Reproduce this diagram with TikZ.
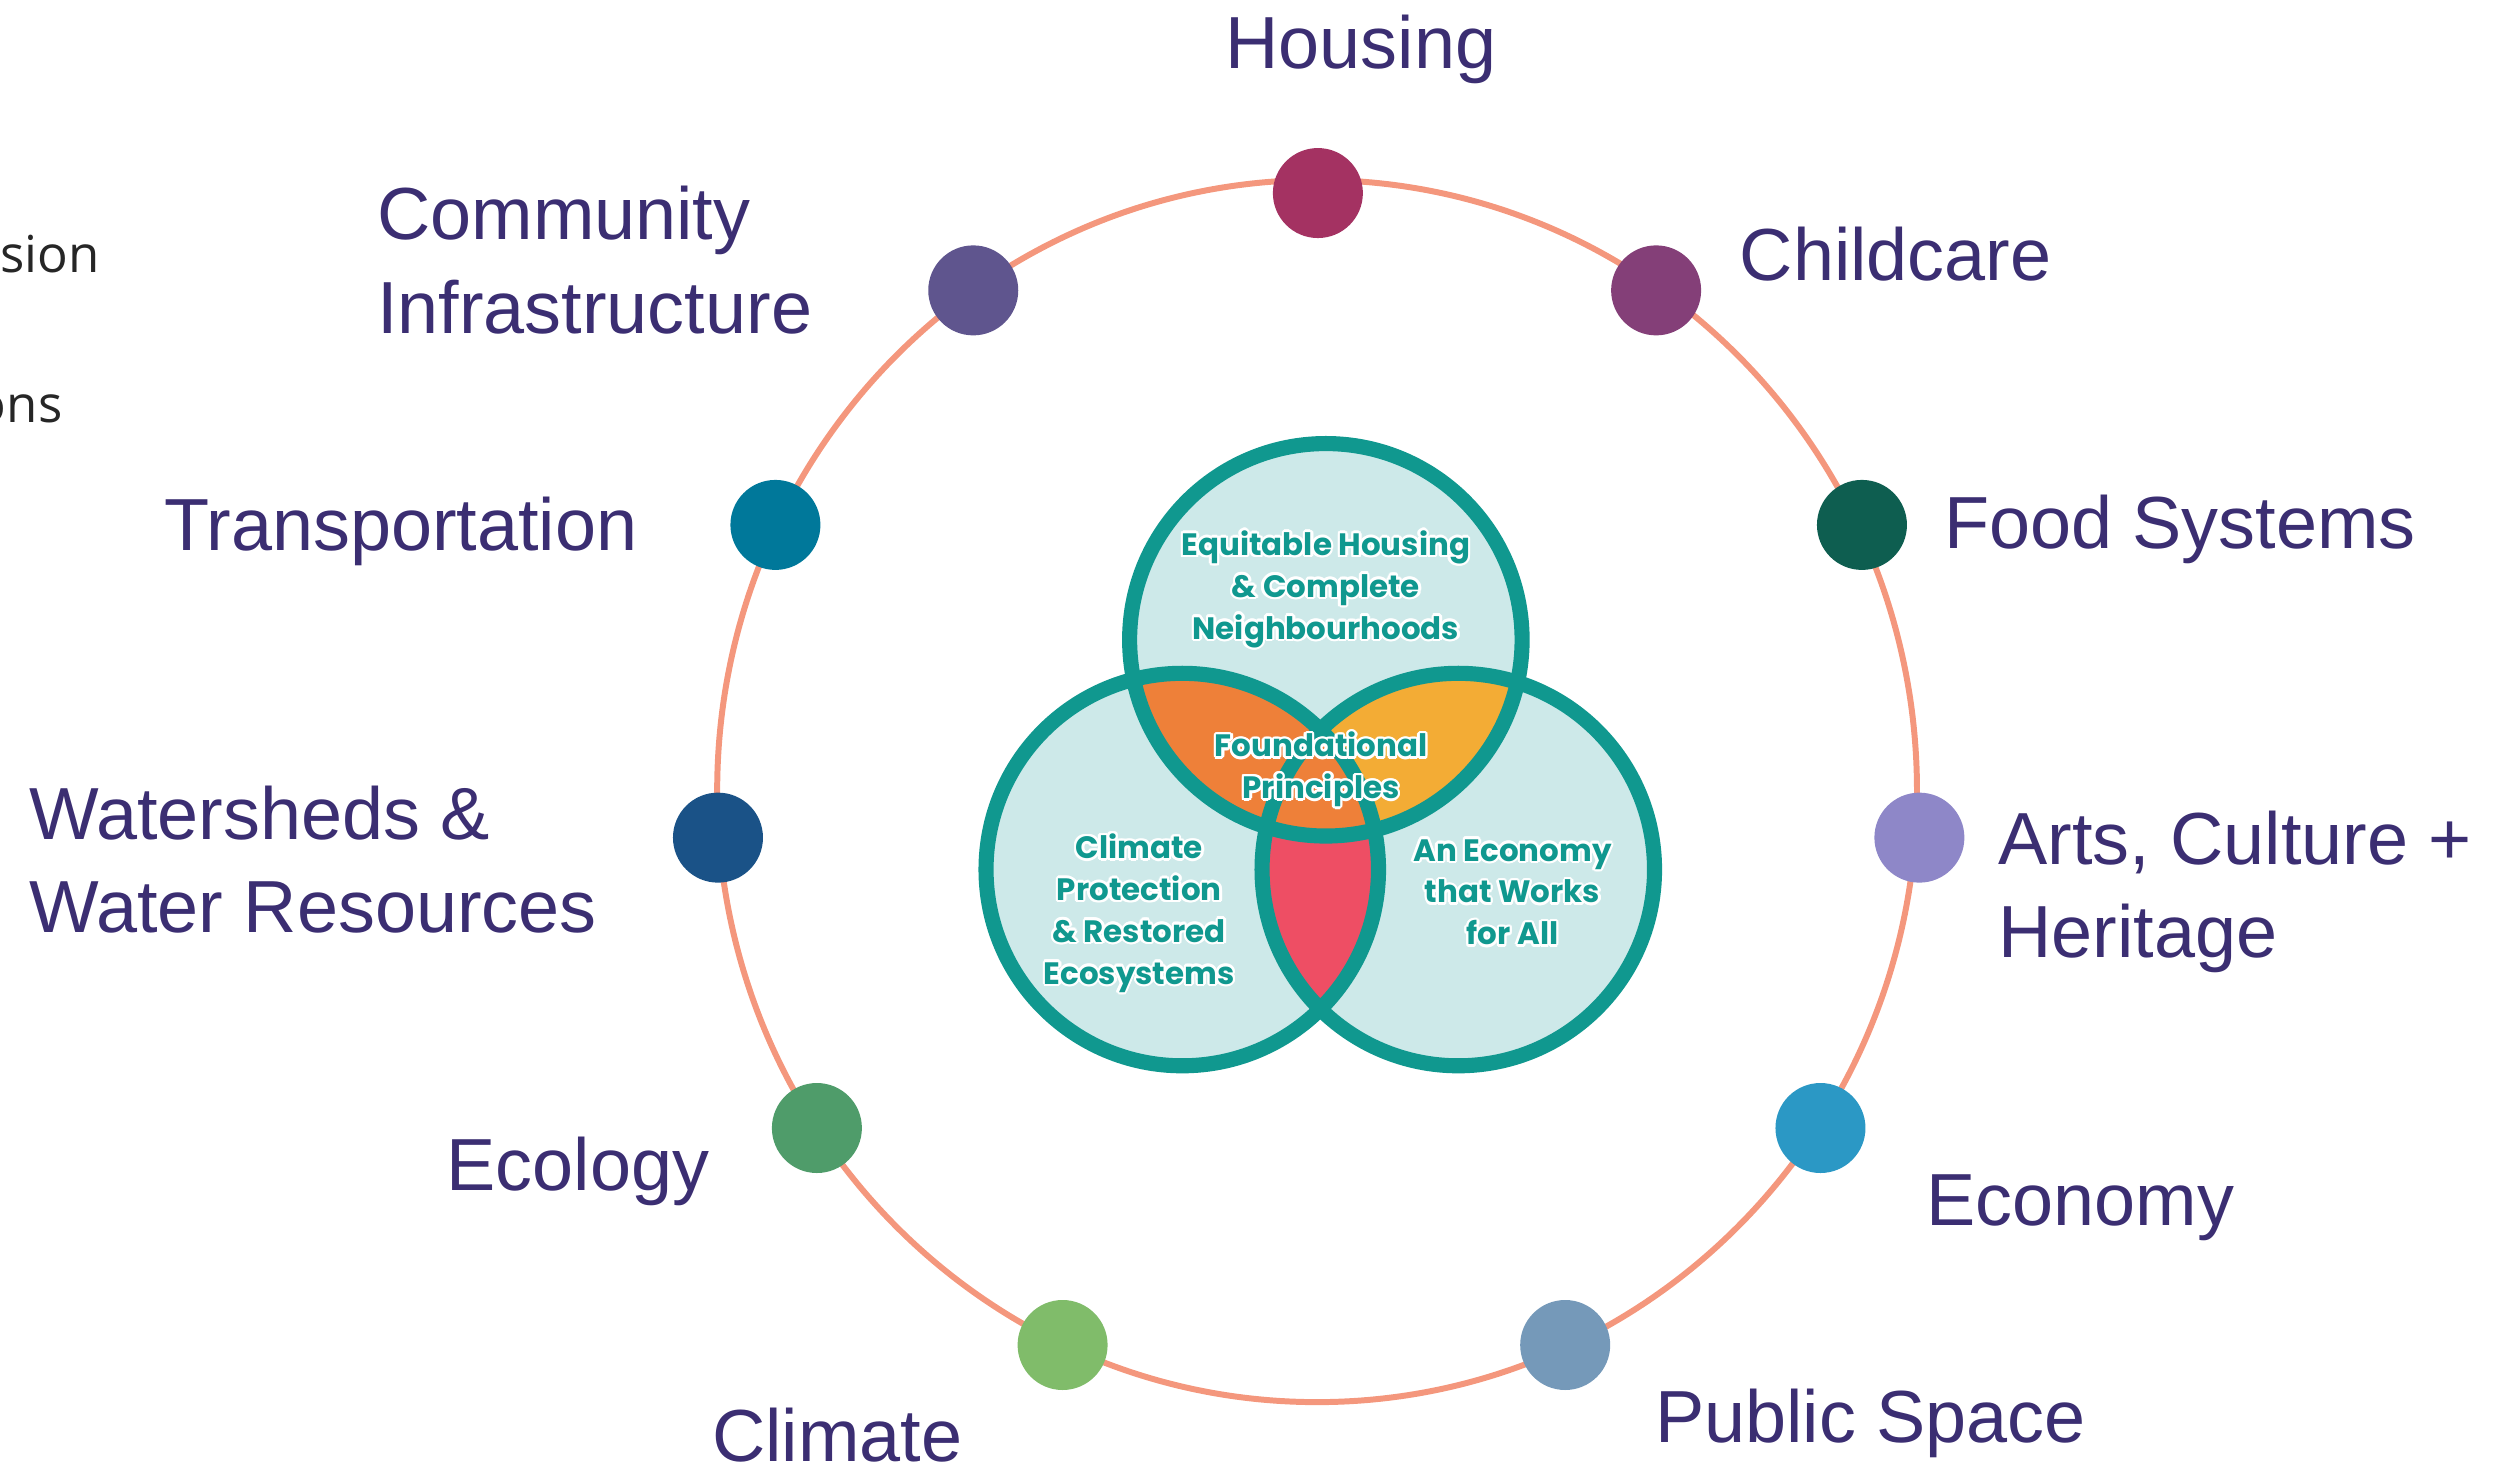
\documentclass[tikz,border=0pt]{standalone}
\usepackage{fontspec}
\setmainfont{Liberation Sans}
\newfontfamily\vennfont{Poppins}
\newfontfamily\cutfont{Open Sans}
\usepackage{contour}
\contourlength{0.7pt}
\usetikzlibrary{positioning}

\definecolor{topicpurple}{HTML}{3B2E72}
\definecolor{ringsalmon}{HTML}{F4977D}
\definecolor{vennteal}{HTML}{10988F}
\definecolor{vennfill}{HTML}{CDE9E9}
\definecolor{lensorange}{HTML}{EE8039}
\definecolor{lensyellow}{HTML}{F3AC35}
\definecolor{lensred}{HTML}{EE4E64}
\definecolor{cHousing}{HTML}{A43262}
\definecolor{cChildcare}{HTML}{843F78}
\definecolor{cFood}{HTML}{0E5E50}
\definecolor{cArts}{HTML}{8E87C8}
\definecolor{cEconomy}{HTML}{2B98C5}
\definecolor{cPublic}{HTML}{7599B9}
\definecolor{cClimate}{HTML}{80BC6A}
\definecolor{cEcology}{HTML}{4F9C6A}
\definecolor{cWater}{HTML}{1A5287}
\definecolor{cTransport}{HTML}{00789A}
\definecolor{cCommunity}{HTML}{5F558E}

\newcommand{\vt}[1]{\contour{white}{#1}}

\tikzset{
    dot/.style={circle, minimum size=9mm, inner sep=0pt},
    topic/.style={text=topicpurple, font=\fontsize{21}{26.5}\selectfont, inner sep=0pt},
    venntext/.style={text=vennteal, font=\vennfont\bfseries\fontsize{8.8}{11.9}\selectfont, align=center, inner sep=0pt},
    venn/.style={draw=vennteal, line width=4.3pt},
}

\begin{document}
\begin{tikzpicture}[x=0.15955mm, y=-0.15955mm]
    \useasboundingbox (0,0) rectangle (1566.3,921.3);

    % Outer ring
    \draw[ringsalmon, line width=1.7pt] (825.5,495.8) ellipse [x radius=376, y radius=383];

    % Venn circles (fill first)
    \fill[vennfill] (831,401) circle [radius=123];
    \fill[vennfill] (741,545) circle [radius=123];
    \fill[vennfill] (914,545) circle [radius=123];

    % Overlaps
    \begin{scope}
        \clip (741,545) circle [radius=123];
        \fill[lensred] (914,545) circle [radius=123];
    \end{scope}
    \begin{scope}
        \clip (831,401) circle [radius=123];
        \fill[lensyellow] (914,545) circle [radius=123];
    \end{scope}
    \begin{scope}
        \clip (831,401) circle [radius=123];
        \fill[lensorange] (741,545) circle [radius=123];
    \end{scope}

    % Venn outlines
    \draw[venn] (831,401) circle [radius=123];
    \draw[venn] (741,545) circle [radius=123];
    \draw[venn] (914,545) circle [radius=123];

    % Venn texts
    \node[venntext] (equitable) at (831,370) {\vt{Equitable Housing}\\\vt{\& Complete}\\\vt{Neighbourhoods}};
    \node[venntext] (foundational) at (828,483) {\vt{Foundational}\\\vt{Principles}};
    \node[venntext] (protection) at (714,573) {\vt{Climate}\\\vt{Protection}\\\vt{\& Restored}\\\vt{Ecosystems}};
    \node[venntext] (economyall) at (948,560) {\vt{An Economy}\\\vt{that Works}\\\vt{for All}};

    % Topic dots on the ring
    \foreach \name/\x/\y in {Housing/826/121, Childcare/1038/182, Food/1167/329,
        Arts/1203/525, Economy/1141/707, Public/981/843, Climate/666/843,
        Ecology/512/707, Water/450/525, Transport/486/329, Community/610/182}
    {
        \node[dot, fill=c\name] (\name) at (\x,\y) {};
    }

    % Topic labels
    \node[topic, anchor=base] (housinglabel) at (853,43) {Housing};
    \node[topic, anchor=base west] (childcarelabel) at (1090,176) {Childcare};
    \node[topic, anchor=base west] (foodlabel) at (1218,344) {Food Systems};
    \node[topic, anchor=west, align=left] (artslabel) at (1252,559) {Arts, Culture +\\Heritage};
    \node[topic, anchor=base west] (economylabel) at (1207,768) {Economy};
    \node[topic, anchor=base west] (publiclabel) at (1037,904) {Public Space};
    \node[topic, anchor=base west] (climatelabel) at (446,916) {Climate};
    \node[topic, anchor=base east] (ecologylabel) at (445,746) {Ecology};
    \node[topic, anchor=west, align=left] (waterlabel) at (18,539) {Watersheds \&\\Water Resources};
    \node[topic, anchor=base east] (transportlabel) at (400,345) {Transportation};
    \node[topic, anchor=west, align=left] (communitylabel) at (236,163) {Community\\Infrastructure};

    % Cut-off words at the left edge
    \node[anchor=base east, inner sep=0pt, text=black!85, font=\cutfont\fontsize{14.5}{17}\selectfont] (cutone) at (62.7,171) {sion};
    \node[anchor=base east, inner sep=0pt, text=black!85, font=\cutfont\fontsize{14.5}{17}\selectfont] (cuttwo) at (39.5,265) {ons};
\end{tikzpicture}
\end{document}
